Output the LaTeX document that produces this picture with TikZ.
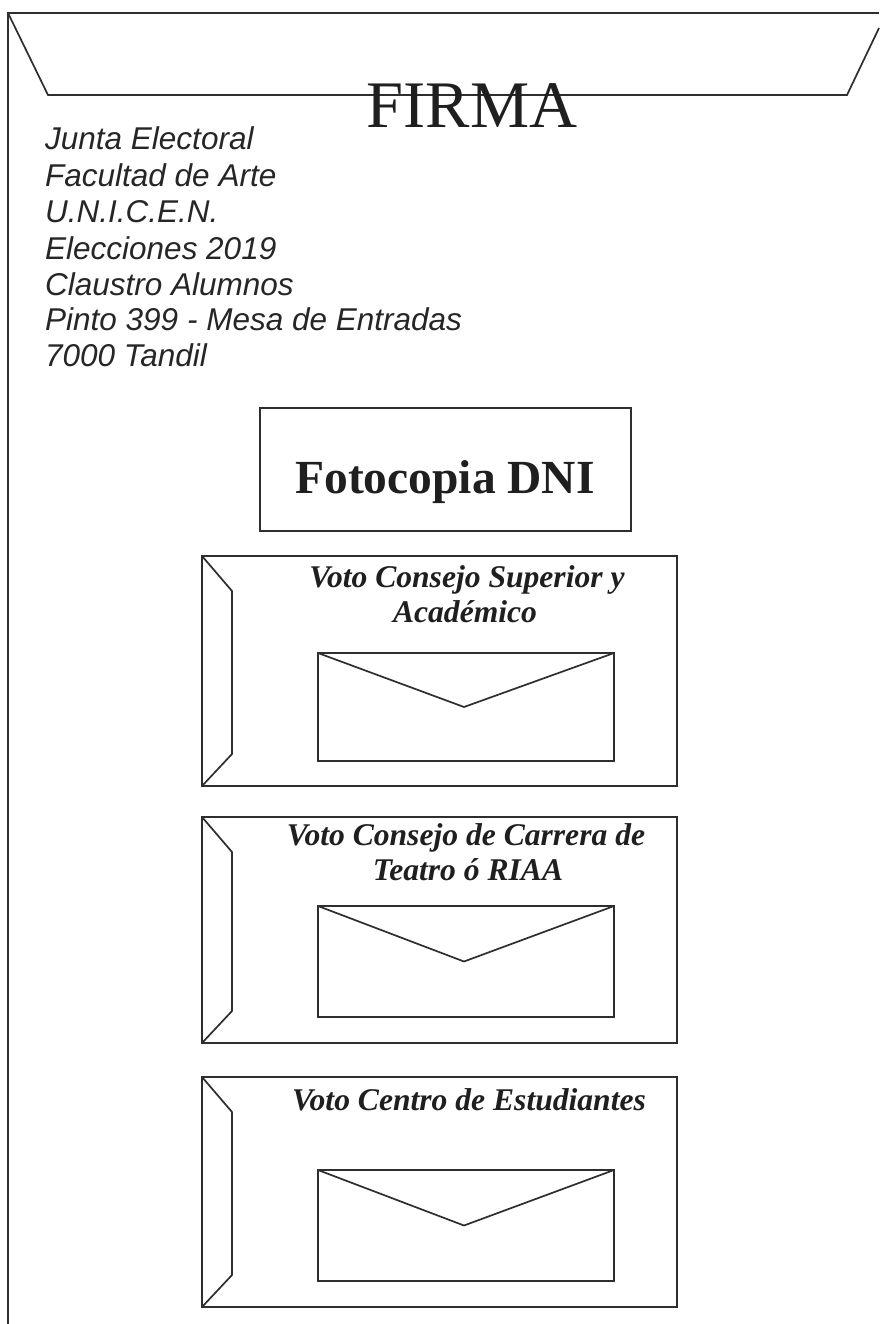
\documentclass[tikz,border=0pt]{standalone}
\usepackage{fontspec}
\setmainfont{Liberation Serif}
\newfontfamily\addrfont{Liberation Sans}
\begin{document}
\begin{tikzpicture}[x=1pt,y=-1pt,
  ln/.style={line width=1.7pt, draw=black!82, line join=miter},
  addr/.style={anchor=base west, inner sep=0pt, text=black!85, font=\addrfont\itshape\fontsize{31.5}{36}\selectfont},
  ttl/.style={anchor=base, inner sep=0pt, text=black!88, font=\bfseries\itshape\fontsize{31.6}{35}\selectfont},
  firmastyle/.style={anchor=base, inner sep=0pt, text=black!88, font=\fontsize{66.5}{70}\selectfont},
  dnistyle/.style={anchor=base, inner sep=0pt, text=black!88, font=\bfseries\fontsize{47.5}{50}\selectfont}]
\useasboundingbox (0,0) rectangle (879,1324);
\fill[white] (0,0) rectangle (879,1324);
% outer envelope and flap
\draw[ln] (879,13) -- (8,13) -- (8,1324);
\draw[ln] (8,13) -- (48,95) -- (847,95) -- (879,28);
\node[firmastyle] (firma) at (472,128) {FIRMA};
% address
\node[addr] (a1) at (45,150) {Junta Electoral};
\node[addr] (a2) at (45,187) {Facultad de Arte};
\node[addr] (a3) at (45,223) {U.N.I.C.E.N.};
\node[addr] (a4) at (45,259) {Elecciones 2019};
\node[addr] (a5) at (45,295) {Claustro Alumnos};
\node[addr] (a6) at (45,330) {Pinto 399 - Mesa de Entradas};
\node[addr] (a7) at (45,366) {7000 Tandil};
% DNI box
\draw[ln] (260,408) rectangle (631,531);
\node[dnistyle] (dni) at (445,493) {Fotocopia DNI};
% envelopes
\foreach \ya/\yb/\yc/\yd in {556/786/653/761, 817/1043/906/1017, 1077/1307/1170/1281} {
  \draw[ln] (202,\ya) rectangle (677,\yb);
  \draw[ln] (202,\ya) -- (232,\ya+35) -- (232,\yb-32) -- (202,\yb);
  \draw[ln] (318,\yc) rectangle (614,\yd);
  \draw[ln] (318,\yc) -- (464,{(\yc+\yd)/2}) -- (614,\yc);
}
\node[ttl] (t1a) at (467,587) {Voto Consejo Superior y};
\node[ttl] (t1b) at (465,622) {Académico};
\node[ttl] (t2a) at (466,845) {Voto Consejo de Carrera de};
\node[ttl] (t2b) at (468,880) {Teatro ó RIAA};
\node[ttl] (t3) at (469,1110) {Voto Centro de Estudiantes};
\end{tikzpicture}
\end{document}
